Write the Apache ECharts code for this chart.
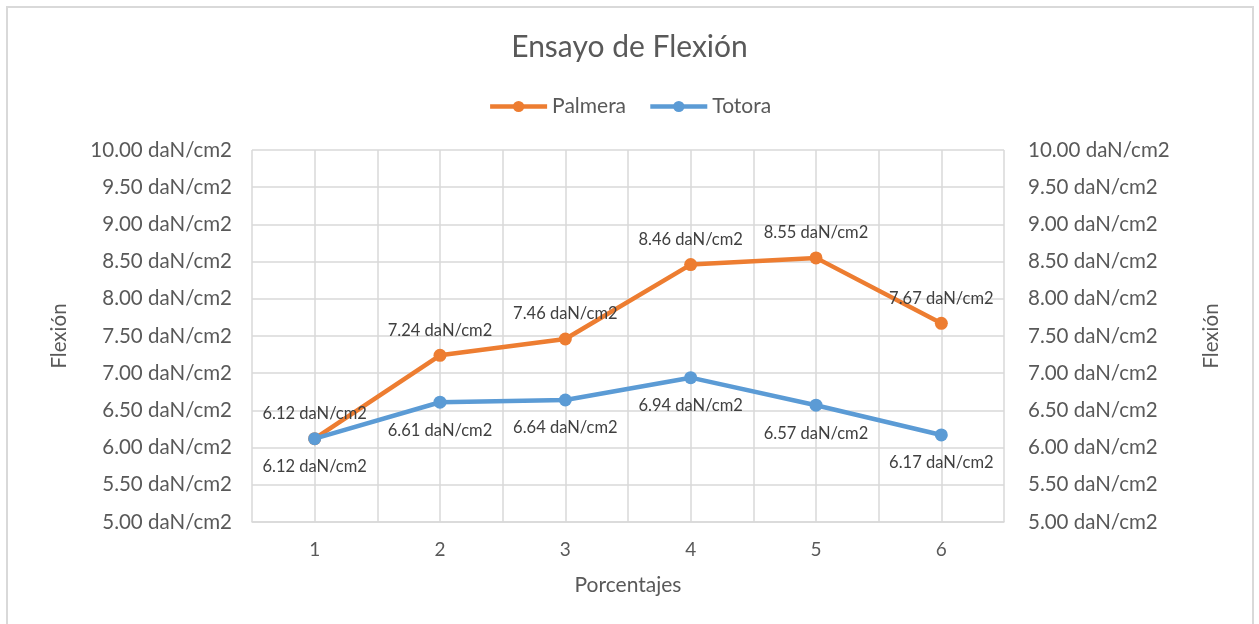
<!DOCTYPE html>
<html>
<head>
<meta charset="utf-8">
<script src="https://cdn.jsdelivr.net/npm/echarts@6/dist/echarts.min.js"></script>
<style>
  html, body { margin: 0; padding: 0; background: #ffffff; }
  #chart { width: 1259px; height: 624px; }
</style>
</head>
<body>
<div id="chart"></div>
<script>
// Flexural strength per percentage (daN/cm2)
const categories = ['1', '2', '3', '4', '5', '6'];
const palmera = [6.12, 7.24, 7.46, 8.46, 8.55, 7.67];
const totora = [6.12, 6.61, 6.64, 6.94, 6.57, 6.17];
const yMin = 5, yMax = 10, yStep = 0.5;

const unit = ' daN/cm2';
const fmtVal = v => Number(v).toFixed(2) + unit;
const textColor = '#595959';
const gridColor = '#d9d9d9';
const fontFamily = 'Lato, "Open Sans", sans-serif';

const chart = echarts.init(document.getElementById('chart'), null, { renderer: 'canvas' });

function valueAxis(position) {
  return {
    type: 'value',
    position: position,
    min: yMin,
    max: yMax,
    interval: yStep,
    name: 'Flexión',
    nameLocation: 'middle',
    nameRotate: 90,
    nameGap: position === 'left' ? 182 : 197,
    nameTextStyle: { color: textColor, fontSize: 20.5, fontFamily: fontFamily },
    axisLine: { show: false },
    axisTick: { show: false },
    axisLabel: {
      color: textColor, fontSize: 20.5, fontFamily: fontFamily,
      margin: position === 'left' ? 20 : 24,
      formatter: fmtVal
    },
    splitLine: { show: position === 'left', lineStyle: { color: gridColor, width: 1.5 } }
  };
}

function lineSeries(name, data, color, labelPos, dist) {
  return {
    name: name,
    type: 'line',
    data: data,
    xAxisIndex: 0,
    yAxisIndex: 0,
    symbol: 'circle',
    symbolSize: 13,
    lineStyle: { color: color, width: 4.5 },
    itemStyle: { color: color },
    label: {
      show: true,
      position: labelPos,
      distance: dist,
      color: '#404040',
      fontSize: 16.5,
      fontFamily: fontFamily,
      formatter: p => fmtVal(p.value)
    },
    z: name === 'Totora' ? 4 : 3
  };
}

chart.setOption({
  animation: false,
  backgroundColor: '#ffffff',
  graphic: [{
    type: 'rect',
    shape: { x: 7, y: 7, width: 1246, height: 660 },
    style: { fill: 'none', stroke: '#d9d9d9', lineWidth: 2 },
    silent: true,
    z: -10
  }],
  title: {
    text: 'Ensayo de Flexión',
    left: 'center',
    top: 27,
    textStyle: { color: textColor, fontSize: 30, fontWeight: 'normal', fontFamily: fontFamily }
  },
  legend: {
    top: 91,
    left: 'center',
    itemGap: 22,
    itemWidth: 57,
    itemHeight: 14,
    lineStyle: { width: 4.5 },
    textStyle: { color: textColor, fontSize: 21, fontFamily: fontFamily },
    data: ['Palmera', 'Totora']
  },
  grid: { left: 252, right: 255, top: 150, bottom: 102 },
  xAxis: [{
    type: 'category',
    data: categories,
    boundaryGap: true,
    name: 'Porcentajes',
    nameLocation: 'middle',
    nameGap: 53,
    nameTextStyle: { color: textColor, fontSize: 21, fontFamily: fontFamily },
    axisLine: { show: true, lineStyle: { color: gridColor, width: 1.5 } },
    axisTick: { show: false },
    axisLabel: { color: textColor, fontSize: 19, fontFamily: fontFamily, margin: 18 },
    splitLine: { show: false }
  }, {
    // helper axis for the vertical gridlines at every half step
    type: 'value',
    position: 'top',
    min: 0.5,
    max: 6.5,
    interval: 0.5,
    axisLine: { show: false },
    axisTick: { show: false },
    axisLabel: { show: false },
    splitLine: { show: true, lineStyle: { color: gridColor, width: 1.5 } }
  }],
  yAxis: [valueAxis('left'), valueAxis('right')],
  series: [
    lineSeries('Palmera', palmera, '#ED7D31', 'top', 10),
    lineSeries('Totora', totora, '#5B9BD5', 'bottom', 13)
  ]
});
</script>
</body>
</html>
